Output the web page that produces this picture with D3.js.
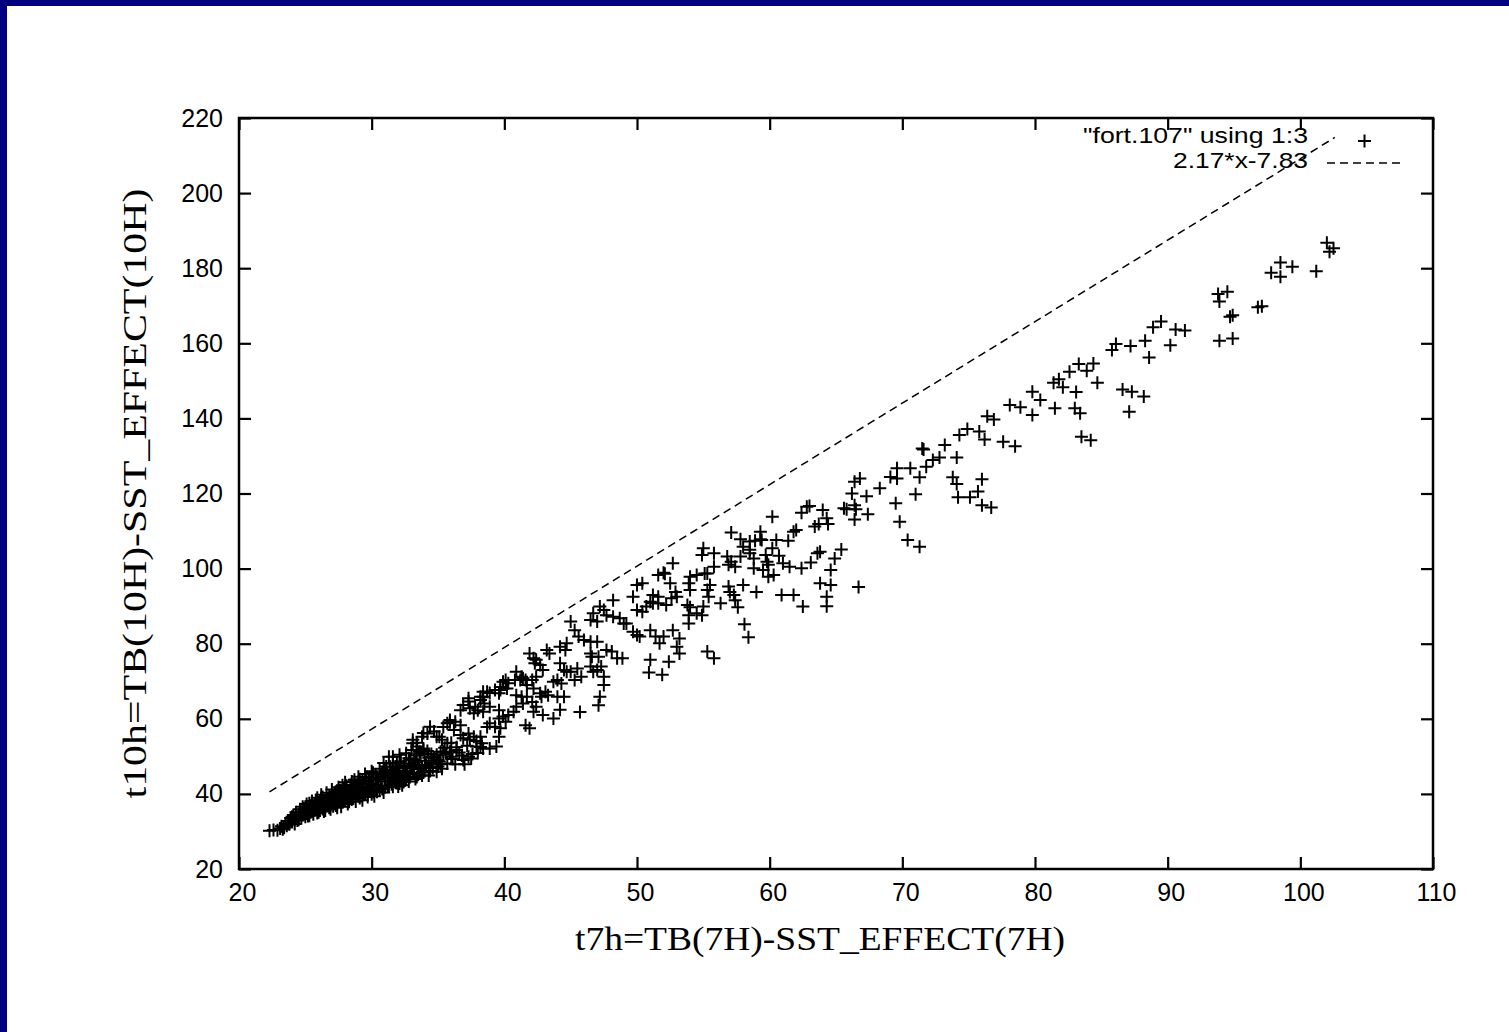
<!DOCTYPE html>
<html>
<head>
<meta charset="utf-8">
<script src="https://cdn.jsdelivr.net/npm/d3@7"></script>
<style>
  html, body { margin: 0; padding: 0; background: #fff; }
</style>
</head>
<body>
<div id="chart"></div>
<script>
// axis setup
var xTicks = [20, 30, 40, 50, 60, 70, 80, 90, 100, 110];
var yTicks = [20, 40, 60, 80, 100, 120, 140, 160, 180, 200, 220];
var xTitle = "t7h=TB(7H)-SST_EFFECT(7H)";
var yTitle = "t10h=TB(10H)-SST_EFFECT(10H)";
var legendLabels = ['"fort.107" using 1:3', "2.17*x-7.83"];

// fitted line y = a*x + b, drawn over the data x range
var fitSlope = 2.17;
var fitIntercept = -7.83;
var fitRange = [22.3, 102.6];

// t7h, t10h pairs
var pointsDense = [
  [22.3,30.2],[22.6,30.4],[22.9,30.3],[23.1,30.8],[23.2,31.4],[23.4,31.0],[23.5,32.1],[23.6,31.5],
  [23.7,32.8],[23.8,31.9],[23.9,33.6],[24.0,32.5],[24.1,34.4],[24.2,33.2],[24.3,35.1],[24.4,32.9],[24.5,34.0],
  [24.6,35.9],[24.7,33.5],[24.8,36.6],[24.9,34.7],[25.0,33.9],[25.1,37.3],[25.2,35.6],[25.3,34.2],[25.4,36.8],[25.5,38.1],
  [25.6,34.6],[25.7,37.4],[25.8,35.8],[25.9,39.0],[26.0,36.5],[26.0,35.1],[26.1,38.2],[26.2,39.8],[26.3,36.0],[26.4,37.6],[26.5,35.6],
  [26.6,40.3],[26.7,38.8],[26.8,36.3],[26.9,37.9],[27.0,41.2],[27.1,39.5],[27.1,36.7],[27.2,38.4],[27.3,40.6],[27.4,37.2],[27.5,41.8],
  [27.6,39.1],[27.7,37.8],[27.8,42.3],[27.9,40.0],[28.0,38.2],[28.0,43.1],[28.1,41.0],[28.2,39.3],[28.3,37.9],[28.4,42.4],[28.5,40.4],
  [28.6,38.8],[28.7,43.8],[28.8,41.6],[28.9,39.6],[29.0,44.6],[29.0,42.5],[29.1,38.9],[29.2,40.8],[29.3,43.5],[29.4,39.8],[29.5,45.3],
  [29.6,41.9],[29.7,40.3],[29.8,44.2],[29.9,42.8],[30.0,46.0],[30.0,39.9],[30.1,43.6],[30.2,41.2],[30.3,45.1],[30.4,40.6],[30.5,44.0],
  [30.6,46.7],[30.7,42.1],[30.8,41.3],[30.9,45.5],[31.0,43.4],[31.1,47.3],[31.2,41.9],[31.3,44.8],[31.4,46.3],[31.5,42.6],
  [31.6,48.0],[31.7,44.1],[31.8,43.0],[31.9,46.9],[32.0,45.3],[32.1,42.8],[32.2,48.6],[32.3,44.6],[32.4,47.4],[32.5,43.6],
  [32.6,46.0],[32.8,49.5],[32.9,44.5],[33.1,47.9],[33.2,45.4],[33.4,50.3],[33.6,46.6],[33.8,44.9],[34.0,48.8],[34.2,51.4],
  [34.4,46.1],[34.7,49.6],[35.0,47.3],
  [23.3,30.6],[23.8,32.3],[24.0,33.9],[24.3,33.6],[24.6,34.5],[24.8,35.3],[25.0,36.6],[25.2,34.1],[25.4,35.1],[25.6,36.2],
  [25.8,38.3],[25.9,34.9],[26.1,36.9],[26.3,39.2],[26.4,35.3],[26.6,37.1],[26.8,39.6],[26.9,35.9],[27.0,38.1],[27.2,40.2],
  [27.3,36.9],[27.5,38.9],[27.6,41.0],[27.7,36.6],[27.9,38.5],[28.1,42.2],[28.2,37.3],[28.4,39.0],[28.5,43.3],[28.7,40.1],
  [28.8,38.0],[29.0,41.3],[29.1,43.9],[29.3,38.3],[29.4,41.6],[29.6,44.5],[29.7,39.2],[29.9,41.5],[30.1,45.6],[30.2,39.4],
  [30.4,42.5],[30.6,41.0],[30.7,44.6],[30.9,40.4],[31.0,46.2],[31.2,44.1],[31.3,42.0],[31.5,45.5],[31.6,41.9],[31.8,47.3],
  [32.0,44.0],[32.1,46.2],[32.3,42.3],[32.5,48.1],[32.7,45.2],[32.8,43.3],[33.0,46.8],[33.2,49.2],[33.3,44.0],[33.5,47.5],
  [33.7,50.8],[33.9,45.7],[34.1,47.7],[34.3,44.9],[34.5,50.6],[34.6,48.2],[34.9,45.9],[35.1,48.6],[35.3,46.7],[35.5,52.3],
  [35.7,48.1],[36.0,53.6],[36.3,47.9],[36.6,51.0],[36.9,49.0],[37.2,52.8],[37.6,50.6],[37.9,54.1],
  [24.2,32.0],[24.5,33.1],[24.9,35.9],[25.1,34.8],[25.3,37.5],[25.5,35.4],[25.7,36.7],[25.9,37.8],[26.1,35.6],[26.2,38.7],
  [26.5,36.6],[26.7,37.6],[26.9,39.1],[27.1,37.9],[27.3,39.5],[27.4,36.3],[27.6,40.4],[27.8,38.0],[27.9,41.4],[28.1,39.6],
  [28.3,40.8],[28.5,38.5],[28.6,41.9],[28.8,40.5],[29.0,39.4],[29.1,42.9],[29.3,41.2],[29.5,40.1],[29.6,43.4],[29.8,40.9],
  [30.0,42.4],[30.1,40.5],[30.3,44.3],[30.5,42.0],[30.7,43.3],[30.8,45.7],[31.0,41.8],[31.2,45.2],[31.4,43.4],[31.6,44.8],
  [31.8,45.9],[32.0,42.0],[32.2,44.3],[32.4,45.8],[32.6,44.1],[32.9,47.3],[33.1,45.6],[33.3,48.4],[33.5,45.1],[33.8,47.1],
  [34.0,46.1],[34.3,49.6],[34.6,46.9],[34.9,50.4],[35.2,47.9],[35.6,50.8],[36.1,49.3],[36.4,52.4],[36.8,50.2],[37.0,47.9],
  [37.5,49.4],[38.0,50.9]
];

var pointsLow = [
  [42.9,73.0],[42.4,71.2],[42.1,70.3],[41.4,70.8],[40.8,70.3],[40.1,70.3],[39.3,67.7],[40.2,68.1],[39.7,67.7],[38.7,67.2],
  [38.4,65.9],[38.2,65.0],[38.5,64.1],[38.9,63.2],[37.3,64.6],[36.9,63.7],[36.7,62.3],[37.4,62.8],[37.8,63.2],[38.0,62.3],
  [38.4,61.9],[37.7,61.5],[39.6,62.3],[39.6,60.1],[39.9,60.6],[40.3,61.0],[40.7,61.9],[40.9,63.2],[41.4,64.1],[41.7,65.9],
  [42.1,64.5],[42.4,63.2],[42.2,61.9],[42.9,61.0],[42.8,65.9],[41.6,58.3],[41.9,57.5],[38.9,58.8],[39.3,57.9],[39.7,57.5],
  [40.1,59.2],[35.9,59.7],[35.7,58.8],[36.3,59.2],[36.7,58.3],[36.2,57.0],[34.4,57.9],[34.7,56.6],[34.2,56.1],[33.8,55.2],
  [34.9,55.2],[35.3,54.4],[35.7,53.5],[36.7,55.7],[36.9,54.8],[37.3,56.1],[37.4,54.4],[37.7,55.2],[38.2,55.2],[38.3,53.5],
  [37.9,52.6],[38.4,52.1],[38.9,52.1],[39.4,52.6],[39.6,55.2],[37.3,49.9],[35.9,51.2],[36.0,49.9],[35.2,51.2],[35.4,50.4],
  [33.1,53.5],[33.4,52.6],[33.0,51.7],[33.6,51.2],[33.9,52.1],[32.6,50.8],[32.1,50.4],[31.6,49.9],[31.3,49.9],
  [34.6,47.2],[33.4,44.5],[32.4,43.2],[31.9,42.9],[33.1,54.4],[33.9,56.2],[35.4,57.8],[35.9,59.1],[38.2,52.5],[38.7,57.8],
  [36.4,51.7],[35.4,51.2],[35.1,55.2],[32.9,49.0],[32.4,47.2],[31.9,48.2],[31.4,47.2],[30.9,48.2],[33.9,51.7],[33.4,53.6],
  [34.5,49.9],[35.0,49.0],[45.7,61.8],[47.1,63.6],[43.7,60.1],[44.2,62.4]
];

var pointsMid = [
  [60.2,113.8],[62.8,116.5],[63.0,116.7],[62.4,114.9],[64.0,115.6],[64.3,113.4],[64.4,111.9],[63.7,111.9],[63.4,111.2],[65.6,116.1],
  [65.8,115.8],[66.5,115.8],[62.0,110.3],[61.8,109.8],[59.3,109.8],[59.3,107.8],[59.4,107.6],[57.1,109.6],[57.8,107.8],[58.5,107.2],
  [58.9,107.4],[58.0,105.8],[58.5,105.0],[60.5,107.6],[61.4,107.4],[60.2,105.4],[55.0,105.4],[55.8,104.1],[54.9,103.6],[56.8,103.2],
  [57.1,101.8],[56.9,101.0],[57.4,100.5],[57.8,103.2],[58.5,104.1],[58.8,102.7],[59.7,103.6],[59.8,101.8],[59.9,101.0],[60.7,103.4],
  [61.0,101.4],[61.5,100.5],[62.4,100.1],[63.1,101.6],[63.6,104.1],[63.8,104.5],[64.9,102.7],[65.4,105.1],[64.6,99.6],[58.8,100.1],
  [59.5,99.6],[59.9,97.8],[60.3,98.3],[63.8,96.1],[64.6,95.6],[64.3,92.5],[64.3,90.0],[62.5,89.9],[60.9,93.0],[61.8,93.0],
  [59.0,93.8],[58.0,95.6],[56.9,95.2],[57.0,93.8],[57.3,93.0],[57.4,91.6],[57.6,89.7],[56.3,90.8],[55.4,92.5],[55.3,94.3],
  [55.5,95.6],[55.3,98.7],[55.8,100.5],[55.1,98.7],[54.5,98.3],[54.0,97.8],[53.9,96.1],[54.0,94.3],[52.9,93.8],[53.0,92.5],
  [52.6,92.1],[53.8,90.3],[54.0,89.7],[53.9,87.6],[54.5,88.1],[54.9,87.6],[53.9,85.4],[55.0,89.9],[51.6,98.3],[52.1,98.6],
  [52.5,96.1],[52.7,101.4],[52.0,98.9],[51.2,93.0],[51.6,92.5],[51.0,91.2],[50.0,95.6],[50.4,96.1],[49.7,92.5],[48.2,91.6],
  [50.0,89.0],[50.4,88.5],[50.7,89.9],[51.2,90.8],[51.6,90.8],[52.2,90.3],[47.2,89.9],[47.5,89.0],[46.7,88.1],[47.7,87.6],
  [48.2,87.2],[48.7,86.8],[49.0,85.4],[46.5,86.3],[47.0,85.9],[49.2,85.4],[49.7,83.2],[50.0,82.3],[50.2,81.9],[51.0,83.6],
  [51.4,81.9],[52.0,81.9],[51.7,80.1],[52.7,83.6],[53.2,81.4],[53.0,79.2],[53.2,77.4],[55.3,77.9],[55.8,76.1],[51.0,75.7],
  [52.4,75.2],[51.9,71.7],[50.9,72.3],[58.1,85.2],[58.4,81.7],[45.0,85.9],[45.3,83.6],[45.6,81.9],[46.0,81.0],[46.5,80.5],
  [47.0,80.5],[44.2,79.2],[44.6,78.3],[44.7,80.1],[47.7,78.3],[48.1,77.9],[48.5,76.1],[48.9,76.1],[46.5,77.4],[46.6,76.5],
  [47.1,76.5],[47.3,73.9],[47.5,71.2],[47.5,69.0],[45.5,73.4],[45.8,71.2],[45.3,70.3],[45.0,72.5],[46.5,73.9],[46.7,72.5],
  [47.0,73.0],[43.2,78.3],[43.4,77.4],[42.4,75.7],[42.3,74.8],[42.7,74.3],[41.9,77.4],[42.2,76.1],[44.2,74.8],[44.5,73.0],
  [44.7,72.5],[44.0,70.3],[43.7,69.9],[44.3,69.4],[40.9,72.5],[41.3,71.2],[41.6,70.3],[41.2,70.3],[40.3,69.5],[39.9,69.9],
  [39.7,68.5],[41.7,69.0],[42.2,68.1],[42.7,66.8],[43.1,67.2],[38.4,67.2],[38.9,66.9],[39.6,66.8],[38.2,65.9],[40.9,66.3],
  [41.3,65.9],[43.3,66.3],[44.0,65.9],[44.5,65.9],[47.2,65.9],[37.3,65.5]
];

var pointsUpper = [
  [93.8,173.1],[94.5,173.7],[93.9,171.1],[94.9,167.5],[94.7,167.1],[96.8,169.6],[97.1,169.9],[93.9,160.7],[94.9,161.3],[88.9,164.3],
  [89.5,165.8],[90.6,163.7],[91.3,163.4],[90.2,159.5],[88.3,160.7],[88.6,156.2],[87.2,159.3],[86.1,159.8],[85.8,158.2],[83.3,154.5],
  [84.4,154.6],[82.6,152.4],[83.9,152.7],[84.7,149.5],[81.4,149.5],[81.8,150.4],[82.1,148.3],[83.1,147.0],[79.8,147.1],[80.4,144.9],
  [79.8,140.9],[81.5,142.7],[83.0,142.7],[83.4,141.4],[86.6,147.7],[87.3,147.1],[88.2,145.8],[87.1,141.8],[83.5,135.1],[84.2,134.2],
  [78.1,143.6],[78.9,143.0],[76.4,140.6],[76.9,139.7],[74.9,137.2],[74.3,135.6],[75.8,136.5],[76.2,134.4],[77.6,133.8],[78.5,132.6],
  [71.5,132.0],[71.6,131.7],[73.2,132.9],[72.8,129.6],[74.1,129.6],[72.3,128.9],[71.8,127.1],[70.6,126.7],[69.6,126.7],[69.1,124.4],
  [69.6,124.0],[68.3,121.4],[66.8,124.0],[66.4,123.1],[71.3,124.3],[71.0,119.8],[69.5,117.4],[69.8,112.5],[73.8,124.3],[74.1,122.5],
  [76.0,123.8],[75.7,120.5],[74.2,119.0],[75.1,119.0],[76.0,116.9],[76.7,116.3],[67.3,119.3],[66.4,116.9],[67.4,114.5],[66.4,113.1],
  [66.2,120.0],[70.4,107.6],[71.3,105.8],[66.7,95.1],
  [102.0,186.8],[102.5,185.3],[102.2,184.4],[98.5,181.5],[99.4,180.4],[97.8,178.8],[98.5,177.7],[101.2,179.2]
];

var allPoints = pointsDense.concat(pointsLow, pointsMid, pointsUpper);

var width = 1509, height = 1032;
var sansFont = "'Liberation Sans', Arial, Helvetica, sans-serif";
var serifFont = "'Liberation Serif', 'Times New Roman', serif";

var svg = d3.select("#chart").append("svg")
    .attr("width", width)
    .attr("height", height)
    .style("display", "block");

svg.append("rect").attr("width", width).attr("height", height).style("fill", "#fff");
// navy slide border (top and left only)
svg.append("rect").attr("x", 0).attr("y", 0).attr("width", width).attr("height", 6).style("fill", "#000080");
svg.append("rect").attr("x", 0).attr("y", 0).attr("width", 7).attr("height", height).style("fill", "#000080");

var xScale = d3.scaleLinear().domain([20, 110]).range([239, 1433]);
var yScale = d3.scaleLinear().domain([20, 220]).range([869, 118]);

var xAxis = d3.axisBottom(xScale).tickValues(xTicks).tickSizeInner(-12).tickSizeOuter(0).tickPadding(14);
var yAxis = d3.axisLeft(yScale).tickValues(yTicks).tickSizeInner(-12).tickSizeOuter(0).tickPadding(16);
var xAxisTop = d3.axisTop(xScale).tickValues(xTicks).tickSizeInner(-12).tickSizeOuter(0).tickFormat("");
var yAxisRight = d3.axisRight(yScale).tickValues(yTicks).tickSizeInner(-12).tickSizeOuter(0).tickFormat("");

function styleAxis(g) {
  g.select(".domain").remove();
  g.selectAll(".tick line").style("stroke", "#000").style("stroke-width", 2.2);
  g.selectAll("text")
    .style("fill", "#000")
    .style("font-size", "25px")
    .style("font-family", sansFont);
}

svg.append("g").attr("class", "x axis")
    .attr("transform", "translate(0," + yScale(20) + ")")
    .call(xAxis).call(styleAxis)
    .selectAll("text").attr("dx", 3);

svg.append("g").attr("class", "y axis")
    .attr("transform", "translate(" + xScale(20) + ",0)")
    .call(yAxis).call(styleAxis);

svg.append("g").attr("class", "x2 axis")
    .attr("transform", "translate(0," + yScale(220) + ")")
    .call(xAxisTop).call(styleAxis);

svg.append("g").attr("class", "y2 axis")
    .attr("transform", "translate(" + xScale(110) + ",0)")
    .call(yAxisRight).call(styleAxis);

// plot frame
svg.append("rect")
    .attr("x", xScale(20))
    .attr("y", yScale(220))
    .attr("width", xScale(110) - xScale(20))
    .attr("height", yScale(20) - yScale(220))
    .style("fill", "none")
    .style("stroke", "#000")
    .style("stroke-width", 2.5);

// axis titles
svg.append("text")
    .attr("x", 820)
    .attr("y", 950)
    .attr("text-anchor", "middle")
    .attr("textLength", 490)
    .attr("lengthAdjust", "spacingAndGlyphs")
    .text(xTitle)
    .style("font-family", serifFont)
    .style("font-size", "33px")
    .style("fill", "#000");

svg.append("text")
    .attr("transform", "translate(146," + ((yScale(20) + yScale(220)) / 2) + ") rotate(-90)")
    .attr("text-anchor", "middle")
    .attr("textLength", 610)
    .attr("lengthAdjust", "spacingAndGlyphs")
    .text(yTitle)
    .style("font-family", serifFont)
    .style("font-size", "33px")
    .style("fill", "#000");

// legend
var legendX = 1308, sampleX0 = 1327, sampleX1 = 1402;
var legendWidths = [225, 135];
svg.selectAll(".legendLabels")
    .data(legendLabels)
  .enter()
    .append("text")
    .attr("class", "legendLabels")
    .attr("x", legendX)
    .attr("y", function(d, i) { return 143 + i * 25; })
    .attr("text-anchor", "end")
    .attr("textLength", function(d, i) { return legendWidths[i]; })
    .attr("lengthAdjust", "spacingAndGlyphs")
    .text(function(d) { return d; })
    .style("font-family", sansFont)
    .style("font-size", "22px")
    .style("fill", "#000");

var plusPath = "M-6.5,0H6.5M0,-6.5V6.5";

svg.append("path")
    .attr("d", plusPath)
    .attr("transform", "translate(" + ((sampleX0 + sampleX1) / 2) + ",141)")
    .style("stroke", "#000")
    .style("stroke-width", 2)
    .style("fill", "none");

svg.append("line")
    .attr("x1", sampleX0).attr("x2", sampleX1)
    .attr("y1", 163).attr("y2", 163)
    .style("stroke", "#000")
    .style("stroke-width", 1.5)
    .style("stroke-dasharray", "8,5");

// fit line
var line = d3.line()
    .x(function(d) { return xScale(d); })
    .y(function(d) { return yScale(fitSlope * d + fitIntercept); });

svg.append("path")
    .datum(fitRange)
    .attr("d", line)
    .style("stroke", "#000")
    .style("stroke-width", 1.5)
    .style("stroke-dasharray", "8,5")
    .style("fill", "none");

// scatter points
svg.selectAll(".pt")
    .data(allPoints)
  .enter()
    .append("path")
    .attr("class", "pt")
    .attr("d", plusPath)
    .attr("transform", function(d) { return "translate(" + xScale(d[0]) + "," + yScale(d[1]) + ")"; })
    .style("stroke", "#000")
    .style("stroke-width", 2)
    .style("fill", "none");
</script>
</body>
</html>
